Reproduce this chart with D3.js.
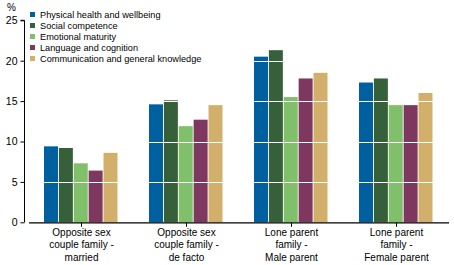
<!DOCTYPE html>
<html><head><meta charset="utf-8">
<script src="https://cdn.jsdelivr.net/npm/d3@7"></script>
<style>body{margin:0;background:#fff}svg{display:block;font-family:"Liberation Sans",Arial,sans-serif}</style>
</head><body><svg id="c" width="454" height="265"></svg>
<script>
const categories = [
  ["Opposite sex","couple family -","married"],
  ["Opposite sex","couple family -","de facto"],
  ["Lone parent","family -","Male parent"],
  ["Lone parent","family -","Female parent"]
];
const seriesNames = ["Physical health and wellbeing","Social competence","Emotional maturity","Language and cognition","Communication and general knowledge"];
const seriesColors = ["#00609f","#366039","#80c06a","#7e3860","#d2af6a"];
const physical = [9.4, 14.6, 20.5, 17.3];
const social = [9.2, 15.1, 21.3, 17.8];
const emotional = [7.3, 11.9, 15.5, 14.5];
const language = [6.4, 12.7, 17.8, 14.5];
const communication = [8.6, 14.5, 18.5, 16.0];
const yTicks = [0,5,10,15,20,25];
const values = [physical, social, emotional, language, communication];

const svg = d3.select("#c");
const x0 = d3.scaleBand().domain(d3.range(categories.length)).range([29,449]);
const x1 = d3.scaleBand().domain(d3.range(seriesNames.length)).range([15,88.5]).paddingInner(0.06);
const y = d3.scaleLinear().domain([0,25]).range([222.3,20.3]);

// bars
categories.forEach((c,ci)=>{
  values.forEach((vals,si)=>{
    svg.append("rect")
      .attr("x", x0(ci)+x1(si))
      .attr("y", y(vals[ci]))
      .attr("width", x1.bandwidth())
      .attr("height", y(0)-y(vals[ci]))
      .attr("fill", seriesColors[si]);
  });
});
// white gridlines over bars
yTicks.filter(t=>t>0).forEach(t=>{
  svg.append("line").attr("x1",25).attr("x2",449)
    .attr("y1",Math.round(y(t))+0.5).attr("y2",Math.round(y(t))+0.5)
    .attr("stroke","#fff").attr("stroke-width",1.2);
});
// y axis
const ya = svg.append("g").attr("transform","translate(24.5,0)")
  .call(d3.axisLeft(y).tickValues(yTicks).tickSize(4).tickPadding(3));
ya.select(".domain").attr("d",`M-4,${y(25)}H0V${y(0)}`).attr("stroke","#000");
ya.selectAll("text").attr("font-size","10.5px").attr("fill","#000").attr("font-family","Liberation Sans, Arial, sans-serif");
svg.append("text").attr("x",7).attr("y",11).attr("font-size","10px").text("%");

// x axis
const xa = svg.append("g").attr("transform",`translate(0,${y(0)+0.5})`)
  .call(d3.axisBottom(x0).tickSize(4).tickFormat(""));
xa.select(".domain").attr("d",`M29,0H449`).attr("stroke","#000").attr("stroke-width",1.3);
categories.forEach((c,ci)=>{
  const t = svg.append("text").attr("text-anchor","middle").attr("font-size","10px")
    .attr("x", x0(ci)+x0.bandwidth()/2).attr("y", 236);
  c.forEach((line,li)=>t.append("tspan").attr("x", x0(ci)+x0.bandwidth()/2).attr("dy", li===0?0:12.3).text(line));
});

// legend
seriesNames.forEach((n,i)=>{
  const ly = 14.5 + i*11;
  svg.append("rect").attr("x",30).attr("y",ly-2.5).attr("width",5).attr("height",5).attr("fill",seriesColors[i]);
  svg.append("text").attr("x",40).attr("y",ly+3.3).attr("font-size","9.2px").text(n);
});
</script></body></html>
